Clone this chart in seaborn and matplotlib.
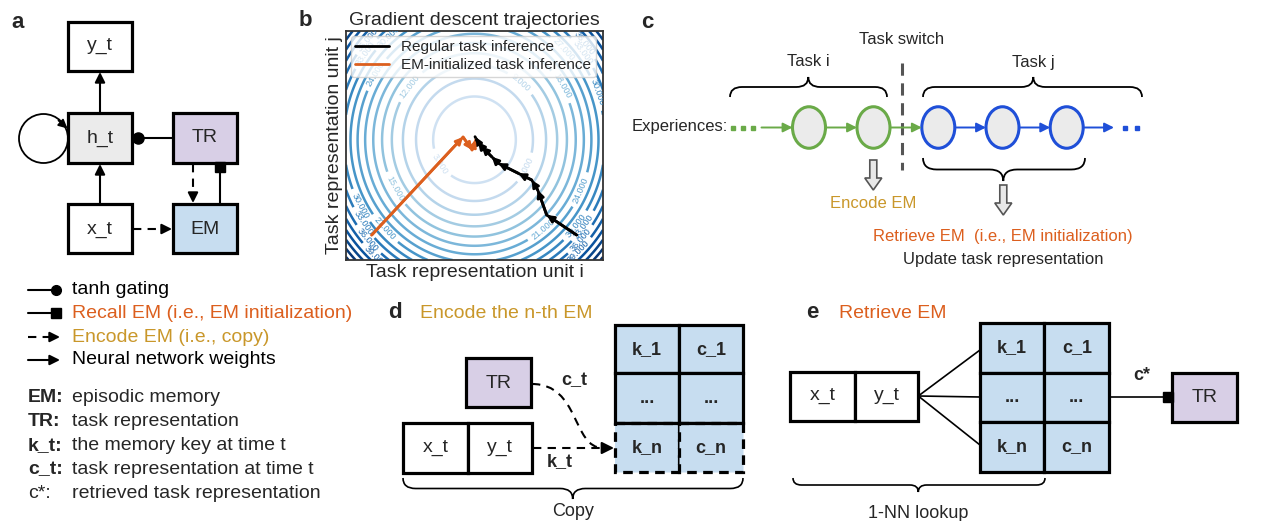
import numpy as np
import pandas as pd
import matplotlib
matplotlib.use("Agg")
import matplotlib.pyplot as plt
import seaborn as sns
from matplotlib.patches import Rectangle, Ellipse, Circle, FancyArrow, PathPatch
from matplotlib.path import Path
from matplotlib.colors import Normalize

# ---- data: panel b trajectories (axes units, -1..1) ----
regular_x = [0.795, 0.562, 0.492, 0.445, 0.341, 0.185, 0.134, 0.056, 0.027, 0.004]
regular_y = [-0.782, -0.607, -0.389, -0.301, -0.243, -0.155, -0.098, -0.010, 0.030, 0.077]
em_x = [-0.800, -0.089, -0.019, 0.010]
em_y = [-0.782, 0.074, -0.039, 0.050]

loss_center = (0.0, 0.05)
loss_curv = (29.0, 21.0)
contour_levels = [3, 6, 9, 12, 15, 18, 21, 24, 27, 30, 33, 36, 39, 42, 45, 48, 51, 54, 57]

legend_keys = ["tanh gating", "Recall EM (i.e., EM initialization)",
               "Encode EM (i.e., copy)", "Neural network weights"]
term_names = ["EM:", "TR:", "k_t:", "c_t:", "c*:"]
term_desc = ["episodic memory", "task representation", "the memory key at time t",
             "task representation at time t", "retrieved task representation"]
table_cells = [["k_1", "c_1"], ["...", "..."], ["k_n", "c_n"]]

ORANGE = "#dc5f1e"
GOLD = "#c9972a"
GREEN = "#6aaa48"
BLUE = "#1f4fd8"
LAVENDER = "#d8cfe6"
LIGHTBLUE = "#c7ddf0"
LIGHTGRAY = "#ebebeb"

sns.set_theme(style="white")
plt.rcParams["font.family"] = ["Liberation Sans", "DejaVu Sans"]

W, H = 1275, 521
fig = plt.figure(figsize=(W / 100, H / 100), dpi=100)
ax = fig.add_axes([0, 0, 1, 1])
ax.set_xlim(0, W)
ax.set_ylim(H, 0)
ax.axis("off")

FS = 14


def rect(x0, y0, x1, y1, fc="white", lw=2.3, ls="-"):
    ax.add_patch(Rectangle((x0, y0), x1 - x0, y1 - y0, fc=fc, ec="black", lw=lw, ls=ls, zorder=2))


def txt(x, y, s, fs=FS, ha="center", **kw):
    ax.text(x, y, s, ha=ha, va="center", fontsize=fs, zorder=5, **kw)


def arrow(x0, y0, x1, y1, color="black", lw=1.5, ms=15):
    ax.annotate("", xy=(x1, y1), xytext=(x0, y0),
                arrowprops=dict(arrowstyle="-|>", color=color, lw=lw, mutation_scale=ms,
                                shrinkA=0, shrinkB=0), zorder=4)


def dashed_arrow(x0, y0, x1, y1, color="black", lw=1.5, ms=15, hl=9):
    d = np.hypot(x1 - x0, y1 - y0)
    ux, uy = (x1 - x0) / d, (y1 - y0) / d
    ax.plot([x0, x1 - ux * hl], [y0, y1 - uy * hl], color=color, lw=lw, ls=(0, (4, 3)), zorder=4)
    arrow(x1 - ux * hl, y1 - uy * hl, x1, y1, color=color, lw=lw, ms=ms)


def brace(x0, x1, yb, h, xt=None, lw=1.3):
    # h < 0 -> tip points up
    xm = (x0 + x1) / 2 if xt is None else xt
    ym, yt = yb + h / 2, yb + h
    r = abs(h) * 0.6
    verts = [(x0, yb), (x0, ym), (x0 + r, ym), (xm - r, ym), (xm, ym), (xm, yt),
             (xm, ym), (xm + r, ym), (x1 - r, ym), (x1, ym), (x1, yb)]
    codes = [Path.MOVETO, Path.CURVE3, Path.CURVE3, Path.LINETO, Path.CURVE3, Path.CURVE3,
             Path.CURVE3, Path.CURVE3, Path.LINETO, Path.CURVE3, Path.CURVE3]
    ax.add_patch(PathPatch(Path(verts, codes), fc="none", ec="black", lw=lw, zorder=3))


def em_table(x0, y0, x1, y1, xc, rows, dashed_last=False):
    rect(x0, y0, x1, y1, fc=LIGHTBLUE, lw=0)
    ys = [y0] + rows + [y1]
    for i in range(3):
        ls = (0, (3, 2)) if (dashed_last and i == 2) else "-"
        rect(x0, ys[i], xc, ys[i + 1], fc=LIGHTBLUE, ls=ls)
        rect(xc, ys[i], x1, ys[i + 1], fc=LIGHTBLUE, ls=ls)
        txt((x0 + xc) / 2, (ys[i] + ys[i + 1]) / 2, table_cells[i][0], fs=13, fontweight="bold")
        txt((xc + x1) / 2, (ys[i] + ys[i + 1]) / 2, table_cells[i][1], fs=13, fontweight="bold")
    if dashed_last:
        ax.plot([x0, x1], [ys[2], ys[2]], color="black", lw=2.3, zorder=3)


# ---------------- panel a ----------------
txt(18, 22, "a", fs=16, fontweight="bold")
rect(68, 22, 132, 71); txt(100, 46, "y_t")
rect(68, 113, 132, 163, fc=LIGHTGRAY); txt(100, 138, "h_t")
rect(173, 113, 237, 163, fc=LAVENDER); txt(205, 138, "TR")
rect(68, 204, 132, 253); txt(100, 229, "x_t")
rect(173, 204, 237, 253, fc=LIGHTBLUE); txt(205, 229, "EM")
arrow(100, 113, 100, 72)
arrow(100, 204, 100, 164)
ax.plot([133, 173], [138, 138], color="black", lw=1.5, zorder=3)
ax.plot([137.5], [138], marker="o", ms=8, color="black", zorder=4)
dashed_arrow(193, 164, 193, 203)
ax.plot([220, 220], [204, 166], color="black", lw=1.5, zorder=3)
ax.plot([220], [166.5], marker="s", ms=7, color="black", zorder=4)
dashed_arrow(133, 229, 172, 229)
ax.add_patch(Circle((43.5, 138.5), 24.5, fill=False, ec="black", lw=1.3, zorder=3))
arrow(58.5, 120.5, 67.5, 128.5, lw=1.3, ms=13)

# legend of panel a
ly = [290, 313, 337, 360]
ax.plot([28, 56], [ly[0], ly[0]], color="black", lw=1.5)
ax.plot([56], [ly[0]], marker="o", ms=7, color="black")
ax.plot([28, 54], [ly[1], ly[1]], color="black", lw=1.5)
ax.plot([56], [ly[1]], marker="s", ms=7, color="black")
dashed_arrow(28, ly[2], 60, ly[2])
arrow(28, ly[3], 60, ly[3])
for yy, s, c in zip(ly, legend_keys, ["black", ORANGE, GOLD, "black"]):
    txt(71.5, yy, s, ha="left", color=c)
for i, (t, d) in enumerate(zip(term_names, term_desc)):
    yy = 397 + i * 24.2
    txt(28, yy, t, ha="left", fontweight="normal" if t == "c*:" else "bold")
    txt(71.5, yy, d, ha="left")

# ---------------- panel c ----------------
txt(647, 22, "c", fs=16, fontweight="bold")
txt(901.7, 39.5, "Task switch", fs=12)
txt(808.3, 62, "Task i", fs=12)
txt(1033.3, 62, "Task j", fs=12)
brace(730, 887, 97, -20, xt=808.3)
brace(923, 1142, 97, -20, xt=1033.3)
ax.plot([901.7, 901.7], [63, 170], color="#555555", lw=2.2, ls=(0, (4, 2.5)), zorder=3)
txt(631.5, 127, "Experiences:", fs=12, ha="left")
ax.plot([733.3, 743.3, 753.3], [127.5] * 3, ls="none", marker="s", ms=2.8, color=GREEN)
ax.plot([1125, 1136.7], [127.5] * 2, ls="none", marker="s", ms=2.8, color=BLUE)
green_cx = [809, 873.5]
blue_cx = [938.3, 1002.5, 1066.7]
for cx in green_cx:
    ax.add_patch(Ellipse((cx, 127.5), 33, 41.5, fc=LIGHTGRAY, ec=GREEN, lw=2.2, zorder=3))
for cx in blue_cx:
    ax.add_patch(Ellipse((cx, 127.5), 33, 41.5, fc=LIGHTGRAY, ec=BLUE, lw=2.2, zorder=3))
arrow(761.5, 127.5, 792.5, 127.5, color=GREEN, lw=1.4, ms=14)
arrow(825.5, 127.5, 857, 127.5, color=GREEN, lw=1.4, ms=14)
arrow(890, 127.5, 921.8, 127.5, color=GREEN, lw=1.4, ms=14)
arrow(955, 127.5, 986, 127.5, color=BLUE, lw=1.4, ms=14)
arrow(1019, 127.5, 1050.2, 127.5, color=BLUE, lw=1.4, ms=14)
arrow(1083.2, 127.5, 1114, 127.5, color=BLUE, lw=1.4, ms=14)
brace(923, 1085, 158, 23, xt=1003.3)
ax.add_patch(FancyArrow(873.3, 160, 0, 30, width=7, head_width=17, head_length=12,
                        length_includes_head=True, fc="#e8e8e8", ec="#555555", lw=1.2, zorder=3))
ax.add_patch(FancyArrow(1003.3, 185, 0, 30, width=7, head_width=17, head_length=12,
                        length_includes_head=True, fc="#e8e8e8", ec="#555555", lw=1.2, zorder=3))
txt(873.3, 203.5, "Encode EM", fs=12, color=GOLD)
txt(1003.3, 236, "Retrieve EM  (i.e., EM initialization)", fs=12, color=ORANGE)
txt(1003.3, 259.5, "Update task representation", fs=12)

# ---------------- panel d ----------------
txt(395, 313, "d", fs=16, fontweight="bold")
txt(420, 313, "Encode the n-th EM", ha="left", color=GOLD)
rect(466, 358, 531, 407, fc=LAVENDER); txt(498.5, 383, "TR")
rect(403, 423, 468, 472.5); rect(468, 423, 532, 472.5)
txt(435.5, 448, "x_t"); txt(500, 448, "y_t")
em_table(615, 325, 743.3, 471.7, 679, [373.3, 423.3], dashed_last=True)
curve = Path([(532, 384), (580, 384), (572, 448), (603, 448)],
             [Path.MOVETO, Path.CURVE4, Path.CURVE4, Path.CURVE4])
ax.add_patch(PathPatch(curve, fc="none", ec="black", lw=1.5, ls=(0, (4, 3)), zorder=4))
dashed_arrow(533, 448, 614, 448, ms=18, hl=12)
txt(574, 381, "c_t", fs=13, fontweight="bold")
txt(560, 462, "k_t", fs=13, fontweight="bold")
brace(403, 743, 478, 21, xt=572.7, lw=1.2)
txt(573, 512, "Copy", fs=13)

# ---------------- panel e ----------------
txt(812, 313, "e", fs=16, fontweight="bold")
txt(839, 313, "Retrieve EM", ha="left", color=ORANGE)
rect(790, 371.7, 855, 420.7); rect(855, 371.7, 918.3, 420.7)
txt(822.5, 396, "x_t"); txt(886.7, 396, "y_t")
em_table(980, 323.3, 1109.3, 471.7, 1044.3, [372.7, 421.7])
for yy in [350, 397, 445]:
    ax.plot([918.3, 980], [396, yy], color="black", lw=1.2, zorder=3)
ax.plot([1109.3, 1168], [397, 397], color="black", lw=1.2, zorder=3)
ax.plot([1167.5], [397], marker="s", ms=7, color="black", zorder=4)
rect(1171.7, 373.3, 1236.7, 421.7, fc=LAVENDER); txt(1204.2, 397.5, "TR")
txt(1142, 375, "c*", fs=13, fontweight="bold")
brace(793, 1045, 478, 14, xt=918.3, lw=1.2)
txt(918.3, 513, "1-NN lookup", fs=13)

# ---------------- panel b ----------------
txt(305, 20, "b", fs=16, fontweight="bold")
axb = fig.add_axes([346 / W, 1 - 260 / H, 257 / W, 229 / H])
gx = np.linspace(-1, 1, 400)
gy = np.linspace(-1, 1, 400)
GX, GY = np.meshgrid(gx, gy)
Z = loss_curv[0] * (GX - loss_center[0]) ** 2 + loss_curv[1] * (GY - loss_center[1]) ** 2
cs = axb.contour(GX, GY, Z, levels=contour_levels, cmap="Blues",
                 norm=Normalize(vmin=-9, vmax=50), linewidths=1.8)
axb.clabel(cs, inline=True, fontsize=6.5, fmt="%.3f")

traj = pd.concat([
    pd.DataFrame({"x": regular_x, "y": regular_y, "kind": "Regular task inference",
                  "step": range(len(regular_x))}),
    pd.DataFrame({"x": em_x, "y": em_y, "kind": "EM-initialized task inference",
                  "step": range(len(em_x))}),
])
pal = {"Regular task inference": "black", "EM-initialized task inference": ORANGE}
sns.lineplot(data=traj, x="x", y="y", hue="kind", palette=pal, sort=False,
             estimator=None, units="kind", lw=2, ax=axb, zorder=4)
for xs, ys, c in [(regular_x, regular_y, "black"), (em_x, em_y, ORANGE)]:
    for i in range(len(xs) - 1):
        axb.annotate("", xy=(xs[i + 1], ys[i + 1]), xytext=(xs[i], ys[i]),
                     arrowprops=dict(arrowstyle="-|>", color=c, lw=2, mutation_scale=10,
                                     shrinkA=0, shrinkB=0), zorder=5)
axb.set_xlim(-1, 1)
axb.set_ylim(-1, 1)
axb.set_xticks([])
axb.set_yticks([])
axb.set_xlabel("Task representation unit i", fontsize=14, labelpad=3)
axb.set_ylabel("Task representation unit j", fontsize=14, labelpad=2)
axb.set_title("Gradient descent trajectories", fontsize=14, pad=4)
for sp in axb.spines.values():
    sp.set_color("#333333")
    sp.set_linewidth(1.3)
leg = axb.legend(loc="upper left", fontsize=11, frameon=True, handlelength=2.2,
                 borderaxespad=0.3, labelspacing=0.25, borderpad=0.3)
leg.set_title(None)

fig.savefig("out.png", dpi=100)
